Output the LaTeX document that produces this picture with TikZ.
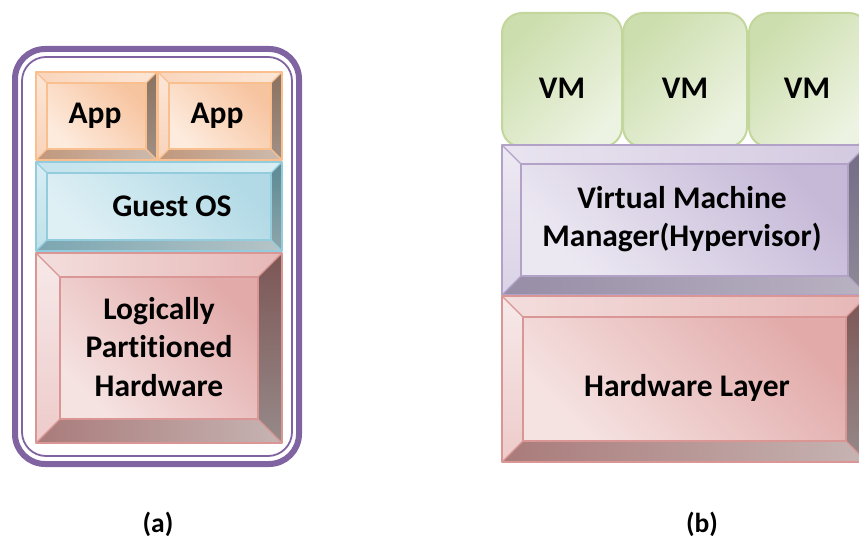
\documentclass[tikz,border=0pt]{standalone}
\usepackage{fontspec}
\setmainfont{Carlito}[Ligatures=CommonOff]
\usetikzlibrary{calc}

% palettes
\definecolor{oBd}{HTML}{F9BF8F}\definecolor{oF1}{HTML}{F7C4A0}\definecolor{oF2}{HTML}{FDEBDD}
\definecolor{oT1}{HTML}{F9D5BC}\definecolor{oT2}{HTML}{FCE6D6}\definecolor{oL1}{HTML}{FCE6D8}\definecolor{oL2}{HTML}{F8D3BA}
\definecolor{oR1}{HTML}{8A7261}\definecolor{oR2}{HTML}{A09084}\definecolor{oB1}{HTML}{C0977C}\definecolor{oB2}{HTML}{CDBBAF}

\definecolor{bBd}{HTML}{93CDDD}\definecolor{bF1}{HTML}{B2DAE6}\definecolor{bF2}{HTML}{DFF0F5}
\definecolor{bT1}{HTML}{C4E3EC}\definecolor{bT2}{HTML}{D7EDF3}\definecolor{bL1}{HTML}{D8EDF3}\definecolor{bL2}{HTML}{C0E1EA}
\definecolor{bR1}{HTML}{5C8993}\definecolor{bR2}{HTML}{8FA6AB}\definecolor{bB1}{HTML}{7BA6B1}\definecolor{bB2}{HTML}{B6C4C7}

\definecolor{pBd}{HTML}{D99694}\definecolor{pF1}{HTML}{E2ABAA}\definecolor{pF2}{HTML}{F5E3E2}
\definecolor{pT1}{HTML}{F3DEDD}\definecolor{pT2}{HTML}{E6B8B7}\definecolor{pL1}{HTML}{F7E9E9}\definecolor{pL2}{HTML}{EDCBCA}
\definecolor{pR1}{HTML}{7C5655}\definecolor{pR2}{HTML}{968A89}\definecolor{pB1}{HTML}{A97B7A}\definecolor{pB2}{HTML}{C6B4B3}

\definecolor{vBd}{HTML}{B3A2C7}\definecolor{vF1}{HTML}{C6B9D8}\definecolor{vF2}{HTML}{ECE8F2}
\definecolor{vT1}{HTML}{E9E4F0}\definecolor{vT2}{HTML}{D3C9E0}\definecolor{vL1}{HTML}{EEEAF3}\definecolor{vL2}{HTML}{DAD2E6}
\definecolor{vR1}{HTML}{736C86}\definecolor{vR2}{HTML}{8E8A96}\definecolor{vB1}{HTML}{978DA6}\definecolor{vB2}{HTML}{B9B2C2}

\definecolor{gBd}{HTML}{C3D69B}\definecolor{gF1}{HTML}{CCDEAD}\definecolor{gF2}{HTML}{EDF3E2}
\definecolor{frame}{HTML}{8064A2}

\tikzset{
  boxtext/.style={font=\fontsize{31.5}{38.5}\selectfont\bfseries, align=center, inner sep=0pt},
  captext/.style={font=\fontsize{27.5}{30}\selectfont\bfseries, inner sep=0pt},
  vmbox/.style={draw=gBd, line width=2pt, rounded corners=20pt, left color=gF1, right color=gF2, shading angle=45},
}

% \bevel{name}{cx}{cy}{w}{h}{bevel}{palette}
\newcommand{\bevel}[7]{%
  \node[rectangle, minimum width=#4pt, minimum height=#5pt, inner sep=0pt, outer sep=0pt] (#1) at (#2,#3) {};
  \coordinate (#1-a) at ([shift={(#6,#6)}]#1.north west);
  \coordinate (#1-b) at ([shift={(-#6,#6)}]#1.north east);
  \coordinate (#1-c) at ([shift={(-#6,-#6)}]#1.south east);
  \coordinate (#1-d) at ([shift={(#6,-#6)}]#1.south west);
  \shade[left color=#7T1, right color=#7T2] (#1.north west) -- (#1.north east) -- (#1-b) -- (#1-a) -- cycle;
  \shade[top color=#7L1, bottom color=#7L2] (#1.north west) -- (#1-a) -- (#1-d) -- (#1.south west) -- cycle;
  \shade[top color=#7R1, bottom color=#7R2] (#1.north east) -- (#1.south east) -- (#1-c) -- (#1-b) -- cycle;
  \shade[left color=#7B1, right color=#7B2] (#1.south west) -- (#1-d) -- (#1-c) -- (#1.south east) -- cycle;
  \shade[left color=#7F1, right color=#7F2, shading angle=-45] (#1-a) rectangle (#1-c);
  \draw[#7Bd, line width=1.5pt, line join=round] (#1.north west) rectangle (#1.south east);
  \draw[#7Bd, line width=1.2pt, line join=round] (#1-a) rectangle (#1-c);
  \draw[#7Bd, line width=1.2pt] (#1.north west) -- (#1-a) (#1.north east) -- (#1-b)
       (#1.south east) -- (#1-c) (#1.south west) -- (#1-d);
}

\begin{document}
\begin{tikzpicture}[x=1pt, y=-1pt]
\useasboundingbox (0,0) rectangle (859,540);
\begin{scope}
\clip (0,0) rectangle (859,540);

% ---------- panel (a)
\draw[frame, line width=6pt, rounded corners=30pt] (15,49) rectangle (299,464);
\draw[frame, line width=1.8pt, rounded corners=24pt] (22,57) rectangle (292,456);

\bevel{app1}{96.5}{116}{121}{88}{11}{o}
\bevel{app2}{220}{116}{124}{88}{11}{o}
\bevel{gos}{159}{206.5}{246}{89}{11}{b}
\bevel{lph}{159}{348}{246}{190}{24}{p}

\node[boxtext] (t-app1) at (95,116) {App};
\node[boxtext] (t-app2) at (217,116) {App};
\node[boxtext] (t-gos) at (172,206) {Guest OS};
\node[boxtext] (t-lph) at (159,347) {Logically\\Partitioned\\Hardware};

% ---------- panel (b)
\node[vmbox, minimum width=120pt, minimum height=134pt] (vm1) at (562,80) {};
\node[vmbox, minimum width=124pt, minimum height=134pt] (vm2) at (685,80) {};
\node[vmbox, minimum width=120pt, minimum height=134pt] (vm3) at (809,80) {};
\node[boxtext] (t-vm1) at (562,88) {VM};
\node[boxtext] (t-vm2) at (685,88) {VM};
\node[boxtext] (t-vm3) at (807,88) {VM};

\bevel{hyp}{684.5}{220}{365}{150}{19}{v}
\bevel{hwl}{684.5}{379}{365}{166}{21}{p}

\node[boxtext] (t-hyp) at (682,219) {Virtual Machine\\Manager(Hypervisor)};
\node[boxtext] (t-hwl) at (687,388) {Hardware Layer};
\end{scope}

\node[captext] (cap-a) at (158,524) {(a)};
\node[captext] (cap-b) at (702,524) {(b)};
\end{tikzpicture}
\end{document}
